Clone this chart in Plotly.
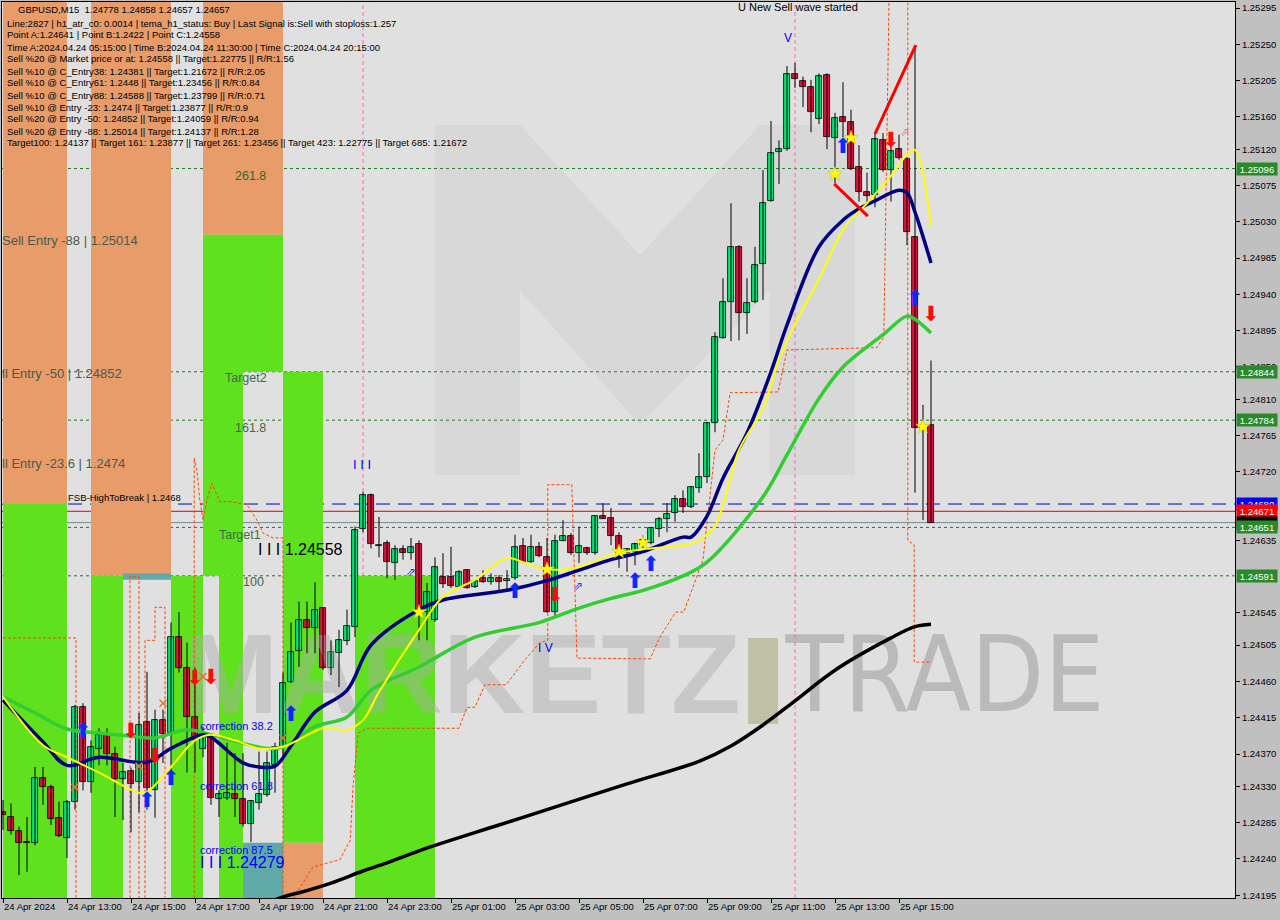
import plotly.graph_objects as go

# ---------------- DATA ----------------
x_labels = ["24 Apr 2024", "24 Apr 13:00", "24 Apr 15:00", "24 Apr 17:00", "24 Apr 19:00",
            "24 Apr 21:00", "24 Apr 23:00", "25 Apr 01:00", "25 Apr 03:00", "25 Apr 05:00",
            "25 Apr 07:00", "25 Apr 09:00", "25 Apr 11:00", "25 Apr 13:00", "25 Apr 15:00"]
x_label_bars = [0, 8, 16, 24, 32, 40, 48, 56, 64, 72, 80, 88, 96, 104, 112]

y_tick_values = [1.25295, 1.25250, 1.25205, 1.25160, 1.25120, 1.25075, 1.25030, 1.24985,
                 1.24940, 1.24895, 1.24850, 1.24810, 1.24765, 1.24720, 1.24635, 1.24545,
                 1.24505, 1.24460, 1.24415, 1.24370, 1.24330, 1.24285, 1.24240, 1.24195]

opens = [1.24298, 1.24292, 1.24275, 1.24261, 1.24260, 1.24340, 1.24329, 1.24291, 1.24266, 1.24311,
         1.24428, 1.24335, 1.24376, 1.24394, 1.24370, 1.24339, 1.24349, 1.24335, 1.24410, 1.24325,
         1.24412, 1.24396, 1.24515, 1.24477, 1.24416, 1.24376, 1.24391, 1.24314, 1.24316, 1.24320,
         1.24314, 1.24283, 1.24309, 1.24319, 1.24356, 1.24379, 1.24459, 1.24498, 1.24536, 1.24526,
         1.24551, 1.24477, 1.24495, 1.24510, 1.24528, 1.24649, 1.24691, 1.24628, 1.24632, 1.24607,
         1.24624, 1.24619, 1.24630, 1.24546, 1.24536, 1.24590, 1.24590, 1.24577, 1.24598, 1.24577,
         1.24588, 1.24583, 1.24588, 1.24585, 1.24588, 1.24628, 1.24608, 1.24627, 1.24614, 1.24546,
         1.24634, 1.24640, 1.24619, 1.24625, 1.24619, 1.24665, 1.24663, 1.24640, 1.24619, 1.24621,
         1.24629, 1.24632, 1.24649, 1.24661, 1.24669, 1.24686, 1.24676, 1.24700, 1.24714, 1.24781,
         1.24886, 1.24931, 1.24999, 1.24917, 1.24931, 1.24978, 1.25056, 1.25117, 1.25120, 1.25213,
         1.25205, 1.25197, 1.25157, 1.25212, 1.25134, 1.25160, 1.25154, 1.25098, 1.25067, 1.25063,
         1.25131, 1.25094, 1.25120, 1.25108, 1.25011, 1.24774, 1.24778]
highs = [1.24313, 1.24309, 1.24280, 1.24292, 1.24354, 1.24354, 1.24332, 1.24311, 1.24313, 1.24431,
         1.24433, 1.24387, 1.24402, 1.24402, 1.24379, 1.24359, 1.24353, 1.24421, 1.24472, 1.24425,
         1.24425, 1.24533, 1.24546, 1.24508, 1.24477, 1.24404, 1.24396, 1.24325, 1.24384, 1.24371,
         1.24371, 1.24313, 1.24373, 1.24373, 1.24384, 1.24471, 1.24533, 1.24559, 1.24559, 1.24583,
         1.24552, 1.24511, 1.24524, 1.24549, 1.24652, 1.24695, 1.24693, 1.24664, 1.24635, 1.24629,
         1.24629, 1.24638, 1.24635, 1.24582, 1.24614, 1.24619, 1.24627, 1.24598, 1.24599, 1.24586,
         1.24598, 1.24594, 1.24592, 1.24598, 1.24642, 1.24638, 1.24642, 1.24633, 1.24638, 1.24642,
         1.24660, 1.24644, 1.24652, 1.24627, 1.24666, 1.24681, 1.24675, 1.24645, 1.24625, 1.24632,
         1.24641, 1.24650, 1.24664, 1.24681, 1.24691, 1.24697, 1.24702, 1.24743, 1.24782, 1.24893,
         1.24960, 1.25053, 1.25001, 1.24960, 1.24999, 1.25094, 1.25155, 1.25131, 1.25223, 1.25227,
         1.25210, 1.25206, 1.25214, 1.25214, 1.25165, 1.25203, 1.25169, 1.25125, 1.25091, 1.25140,
         1.25140, 1.25128, 1.25138, 1.25110, 1.25249, 1.24803, 1.24858]
lows = [1.24276, 1.24270, 1.24220, 1.24224, 1.24257, 1.24307, 1.24282, 1.24267, 1.24241, 1.24301,
        1.24325, 1.24322, 1.24356, 1.24356, 1.24292, 1.24288, 1.24273, 1.24298, 1.24301, 1.24291,
        1.24359, 1.24347, 1.24471, 1.24347, 1.24347, 1.24366, 1.24307, 1.24292, 1.24313, 1.24292,
        1.24280, 1.24261, 1.24301, 1.24317, 1.24322, 1.24366, 1.24458, 1.24478, 1.24495, 1.24495,
        1.24474, 1.24468, 1.24453, 1.24505, 1.24515, 1.24645, 1.24625, 1.24614, 1.24588, 1.24586,
        1.24611, 1.24611, 1.24511, 1.24511, 1.24534, 1.24576, 1.24576, 1.24576, 1.24575, 1.24576,
        1.24582, 1.24580, 1.24573, 1.24573, 1.24586, 1.24607, 1.24607, 1.24614, 1.24545, 1.24539,
        1.24634, 1.24617, 1.24607, 1.24617, 1.24617, 1.24662, 1.24629, 1.24601, 1.24596, 1.24604,
        1.24625, 1.24630, 1.24639, 1.24645, 1.24658, 1.24669, 1.24675, 1.24694, 1.24706, 1.24769,
        1.24885, 1.24882, 1.24883, 1.24891, 1.24929, 1.24933, 1.25055, 1.25077, 1.25118, 1.25196,
        1.25172, 1.25141, 1.25151, 1.25120, 1.25078, 1.25135, 1.25094, 1.25055, 1.25053, 1.25048,
        1.25092, 1.25055, 1.25107, 1.25001, 1.24694, 1.24660, 1.24657]
closes = [1.24294, 1.24275, 1.24260, 1.24260, 1.24340, 1.24329, 1.24289, 1.24268, 1.24311, 1.24428,
          1.24335, 1.24379, 1.24394, 1.24370, 1.24339, 1.24348, 1.24333, 1.24406, 1.24328, 1.24412,
          1.24395, 1.24515, 1.24477, 1.24416, 1.24387, 1.24391, 1.24316, 1.24320, 1.24322, 1.24314,
          1.24283, 1.24312, 1.24320, 1.24359, 1.24379, 1.24458, 1.24497, 1.24536, 1.24526, 1.24549,
          1.24477, 1.24497, 1.24511, 1.24529, 1.24648, 1.24691, 1.24630, 1.24629, 1.24608, 1.24624,
          1.24619, 1.24627, 1.24549, 1.24571, 1.24602, 1.24581, 1.24578, 1.24596, 1.24576, 1.24585,
          1.24583, 1.24588, 1.24583, 1.24587, 1.24627, 1.24608, 1.24627, 1.24616, 1.24546, 1.24634,
          1.24640, 1.24619, 1.24628, 1.24619, 1.24665, 1.24662, 1.24640, 1.24617, 1.24624, 1.24630,
          1.24635, 1.24650, 1.24661, 1.24668, 1.24686, 1.24676, 1.24701, 1.24714, 1.24781, 1.24887,
          1.24931, 1.24999, 1.24917, 1.24929, 1.24976, 1.25053, 1.25115, 1.25120, 1.25213, 1.25207,
          1.25197, 1.25166, 1.25211, 1.25135, 1.25159, 1.25154, 1.25095, 1.25067, 1.25062, 1.25133,
          1.25094, 1.25118, 1.25109, 1.25017, 1.24774, 1.24778, 1.24657]

navy_bars = [0, 5, 8, 12, 18, 21, 25, 26, 30, 32, 34, 36, 39, 43, 46, 52, 55, 63, 68, 72, 76, 80,
             85, 86, 88, 90, 93, 96, 98, 102, 105, 107, 109, 112, 113, 114, 116]
navy_vals = [1.24437, 1.24385, 1.24356, 1.24366, 1.24360, 1.24377, 1.24394, 1.24391, 1.24359, 1.24354,
             1.24355, 1.24380, 1.24422, 1.24449, 1.24505, 1.24549, 1.24561, 1.24573, 1.24585, 1.24598,
             1.24611, 1.24621, 1.24639, 1.24639, 1.24665, 1.24712, 1.24768, 1.24844, 1.24902, 1.24999,
             1.25032, 1.25046, 1.25056, 1.25069, 1.25066, 1.25042, 1.24979]

yellow_bars = [0, 5, 8, 12, 17, 18, 21, 24, 26, 29, 32, 35, 40, 43, 45, 47, 52, 55, 59, 63, 65, 68,
               72, 76, 80, 85, 87, 89, 92, 95, 97, 99, 102, 105, 108, 111, 113, 114, 116]
yellow_vals = [1.24441, 1.24381, 1.24366, 1.24347, 1.24322, 1.24323, 1.24354, 1.24387, 1.24394, 1.24387,
               1.24377, 1.24379, 1.24402, 1.24400, 1.24412, 1.24447, 1.24524, 1.24565, 1.24586, 1.24613,
               1.24608, 1.24599, 1.24602, 1.24617, 1.24624, 1.24629, 1.24635, 1.24653, 1.24747, 1.24799,
               1.24859, 1.24903, 1.24959, 1.25020, 1.25053, 1.25087, 1.25113, 1.25119, 1.25024]

green_bars = [0, 4, 8, 12, 16, 19, 23, 26, 29, 33, 35, 39, 43, 46, 52, 59, 67, 72, 76, 80, 85, 88,
              95, 98, 102, 105, 110, 113, 114, 116]
green_vals = [1.24441, 1.24421, 1.24401, 1.24396, 1.24392, 1.24390, 1.24400, 1.24394, 1.24386, 1.24377,
              1.24379, 1.24404, 1.24416, 1.24449, 1.24478, 1.24515, 1.24533, 1.24551, 1.24563, 1.24573,
              1.24591, 1.24608, 1.24689, 1.24741, 1.24811, 1.24850, 1.24890, 1.24913, 1.24909, 1.24892]

black_bars = [33, 35, 37, 41, 45, 48, 52, 62, 68, 78, 87, 91, 95, 99, 104, 111, 114, 116]
black_vals = [1.24185, 1.24193, 1.24198, 1.24210, 1.24225, 1.24235, 1.24250, 1.24282, 1.24301, 1.24333,
              1.24361, 1.24380, 1.24406, 1.24436, 1.24474, 1.24514, 1.24528, 1.24531]

env_bars = [0, 9.125, 9.125, None,
            15.875, 15.875, 17, 17, None,
            17.75, 17.75, 19, 19, 20.25, 20.25, None,
            23.9, 23.9, 24.25, 24.6, 25, 25.5, 26.1, 27.1, 28.4, 30.5, 31.75, 32.5, 33.75, 35, 35, None,
            35.9, 38.75, 42.1, 43.4, 43.75, 44.4, 45.5, 57, 58, 59, 60.25, 62.9, 65.25, 67.1, 68.1,
            68.1, 71.1, 71.75, 80.9, 82.1, 84.1, 85.1, 87.5, 88.4, 89, 90, 90.9, 96.9, 98, 109.25,
            110.1, 110.75, None,
            113.1, 113.1, 113.9, 113.9, 115.9]
env_vals = [1.24514, 1.24514, 1.24185, None,
            1.24185, 1.24590, 1.24590, 1.24185, None,
            1.24185, 1.24511, 1.24511, 1.24552, 1.24552, 1.24185, None,
            1.24185, 1.24737, 1.24722, 1.24685, 1.24660, 1.24685, 1.24706, 1.24683, 1.24683, 1.24679,
            1.24660, 1.24644, 1.24638, 1.24638, 1.24185, None,
            1.24185, 1.24230, 1.24239, 1.24263, 1.24329, 1.24396, 1.24402, 1.24402, 1.24428, 1.24428,
            1.24456, 1.24456, 1.24487, 1.24508, 1.24511, 1.24704, 1.24704, 1.24489, 1.24488, 1.24515,
            1.24546, 1.24546, 1.24611, 1.24694, 1.24747, 1.24759, 1.24818, 1.24819, 1.24871, 1.24874,
            1.24887, 1.25302, None,
            1.25302, 1.24635, 1.24629, 1.24484, 1.24484]

zigzag_bars = [103.9, 108.1, None, 109, 114.1]
zigzag_vals = [1.25077, 1.25037, None, 1.25139, 1.25249]

buy_arrow_bars = [10, 18, 21, 36, 64, 79, 81, 105, 114]
buy_arrow_vals = [1.24396, 1.24311, 1.24338, 1.24418, 1.24570, 1.24582, 1.24604, 1.25122, 1.24933]
sell_arrow_bars = [16, 19, 24, 26, 69, 111, 116]
sell_arrow_vals = [1.24396, 1.24366, 1.24462, 1.24463, 1.24565, 1.25129, 1.24914]
star_bars = [52, 68, 77, 80, 104, 106, 115]
star_vals = [1.24546, 1.24599, 1.24621, 1.24632, 1.25089, 1.25134, 1.24776]
cross_bars = [9, 17, 20, 25, 35]
cross_vals = [1.24329, 1.24355, 1.24433, 1.24466, 1.24390]
hollow_bars = [51, 71.9, 112.75]
hollow_vals = [1.24594, 1.24577, 1.25140]

# background zones: start bar, end bar, low price, high price, kind
Y_LO, Y_HI = 1.241915, 1.253025
zone_start = [0, 11, 25, 0, 11, 21, 25, 27, 30, 35, 44, 30, 35, 15]
zone_end = [8, 21, 35, 8, 15, 25, 30, 30, 35, 40, 54, 35, 40, 21]
zone_low = [1.24680, 1.24591, 1.25014, Y_LO, Y_LO, Y_LO, 1.24591, Y_LO, 1.24844, 1.24260, Y_LO, Y_LO, Y_LO, 1.24586]
zone_high = [Y_HI, Y_HI, Y_HI, 1.24680, 1.24591, 1.24591, 1.25014, 1.24591, 1.25014, 1.24844, 1.24591, 1.24260, 1.24260, 1.24594]
zone_kind = ["sell", "sell", "sell", "buy", "buy", "buy", "buy", "buy", "buy", "buy", "buy", "mid", "sell", "mid"]

dotted_levels = [1.25096, 1.24844, 1.24784, 1.24651, 1.24591]
fsb_level = 1.24680
red_level = 1.24671
bid_level = 1.24657

vlines_bars = [2, 45, 99]

# ---------------- helpers for layout positions ----------------
def xp(px):
    return (px - 2) / 1233.0

def yp(pix):
    return (898 - pix) / 896.0

def bx(px):
    return (px - 3) / 8.0

def pv(pix):
    return 1.25305 - 0.0000124 * pix

FONT = "Liberation Sans, Arial, sans-serif"
zone_colors = {"sell": "#E79C69", "buy": "#60E11E", "mid": "#5FA9A9"}

fig = go.Figure()

# watermark
fig.add_trace(go.Scatter(x=[bx(462)], y=[pv(684)], mode="text", text=["MARKETZ"],
                         textfont=dict(family=FONT, size=114, color="rgba(170,170,170,0.45)", weight="bold"),
                         hoverinfo="skip"))
fig.add_trace(go.Scatter(x=[bx(945)], y=[pv(684)], mode="text", text=["TRADE"],
                         textfont=dict(family="DejaVu Sans Condensed, Liberation Sans Narrow, Liberation Sans", size=106,
                                       color="rgba(160,160,160,0.6)"),
                         hoverinfo="skip"))

# envelope (orange dashed)
fig.add_trace(go.Scatter(x=env_bars, y=env_vals, mode="lines", connectgaps=False,
                         line=dict(color="#FF4500", width=1, dash="3px,2px"), hoverinfo="skip"))

# black long MA
fig.add_trace(go.Scatter(x=black_bars, y=black_vals, mode="lines", line=dict(color="black", width=3.5, shape="spline"),
                         hoverinfo="skip"))

# candles
bars = list(range(len(opens)))
wx, wy = [], []
for i in bars:
    wx += [i, i, None]
    wy += [highs[i], lows[i], None]
fig.add_trace(go.Scatter(x=wx, y=wy, mode="lines", line=dict(color="black", width=1), hoverinfo="skip"))
bull = [i for i in bars if closes[i] >= opens[i]]
bear = [i for i in bars if closes[i] < opens[i]]
fig.add_trace(go.Bar(x=bull, base=[opens[i] for i in bull],
                     y=[max(closes[i] - opens[i], 0.000015) for i in bull], width=0.74,
                     marker=dict(color="#00E676", line=dict(color="black", width=0.8)), hoverinfo="skip"))
fig.add_trace(go.Bar(x=bear, base=[closes[i] for i in bear],
                     y=[max(opens[i] - closes[i], 0.000015) for i in bear], width=0.74,
                     marker=dict(color="#DC143C", line=dict(color="black", width=0.8)), hoverinfo="skip"))

# moving averages
fig.add_trace(go.Scatter(x=green_bars, y=green_vals, mode="lines", line=dict(color="#32CD32", width=3.5, shape="spline"),
                         hoverinfo="skip"))
fig.add_trace(go.Scatter(x=navy_bars, y=navy_vals, mode="lines", line=dict(color="#000080", width=3.5, shape="spline"),
                         hoverinfo="skip"))
fig.add_trace(go.Scatter(x=yellow_bars, y=yellow_vals, mode="lines", line=dict(color="#FFFF00", width=2, shape="spline"),
                         hoverinfo="skip"))
fig.add_trace(go.Scatter(x=zigzag_bars, y=zigzag_vals, mode="lines", line=dict(color="#FF0000", width=3),
                         hoverinfo="skip"))

# signals
fig.add_trace(go.Scatter(x=cross_bars, y=cross_vals, mode="markers",
                         marker=dict(symbol="x-thin", size=7, line=dict(color="#E8742A", width=1.5)), hoverinfo="skip"))
fig.add_trace(go.Scatter(x=star_bars, y=star_vals, mode="markers",
                         marker=dict(symbol="star", size=11, color="#FFFF00", line=dict(color="#E0C000", width=0.5)),
                         hoverinfo="skip"))
fig.add_trace(go.Scatter(x=buy_arrow_bars, y=buy_arrow_vals, mode="text", text=["⬆"] * len(buy_arrow_bars),
                         textfont=dict(family="DejaVu Sans", size=21, color="#0A2BFF"), hoverinfo="skip"))
fig.add_trace(go.Scatter(x=sell_arrow_bars, y=sell_arrow_vals, mode="text", text=["⬇"] * len(sell_arrow_bars),
                         textfont=dict(family="DejaVu Sans", size=21, color="#FF0A0A"), hoverinfo="skip"))
fig.add_trace(go.Scatter(x=hollow_bars, y=hollow_vals, mode="text", text=["⇗"] * len(hollow_bars),
                         textfont=dict(family="DejaVu Sans", size=12, color=["#2040FF", "#2040FF", "#FF7090"]),
                         hoverinfo="skip"))

# ---------------- shapes ----------------
shapes = []
for s, e, lo, hi, k in zip(zone_start, zone_end, zone_low, zone_high, zone_kind):
    shapes.append(dict(type="rect", xref="x", yref="y", x0=s, x1=e, y0=lo, y1=hi,
                       fillcolor=zone_colors[k], line=dict(width=0), layer="below"))

# faint "M" logo
mpts = [(435, 475), (435, 125), (520, 125), (640, 255), (760, 125), (855, 125), (855, 475),
        (770, 475), (770, 290), (640, 425), (520, 290), (520, 475)]
path = "M " + " L ".join(f"{bx(a)},{pv(b)}" for a, b in mpts) + " Z"
shapes.append(dict(type="path", xref="x", yref="y", path=path, fillcolor="rgba(170,170,170,0.14)",
                   line=dict(width=0), layer="below"))
# tan bar of watermark
shapes.append(dict(type="rect", xref="x", yref="y", x0=bx(748), x1=bx(778), y0=pv(724), y1=pv(638),
                   fillcolor="rgba(185,185,150,0.8)", line=dict(width=0), layer="below"))

for lv in dotted_levels:
    shapes.append(dict(type="line", xref="paper", yref="y", x0=0, x1=1, y0=lv, y1=lv,
                       line=dict(color="#1E7A1E", width=1, dash="3px,3px"), layer="below"))
shapes.append(dict(type="line", xref="paper", yref="y", x0=0, x1=1, y0=fsb_level, y1=fsb_level,
                   line=dict(color="#0000CC", width=1, dash="14px,8px"), layer="below"))
shapes.append(dict(type="line", xref="paper", yref="y", x0=0, x1=1, y0=red_level, y1=red_level,
                   line=dict(color="#E00000", width=1), layer="below"))
shapes.append(dict(type="line", xref="paper", yref="y", x0=0, x1=1, y0=bid_level, y1=bid_level,
                   line=dict(color="#778899", width=1), layer="below"))
vcols = ["#00CCCC", "#FF69B4", "#FF69B4"]
for b, c in zip(vlines_bars, vcols):
    shapes.append(dict(type="line", xref="x", yref="paper", x0=b, x1=b, y0=0, y1=1,
                       line=dict(color=c, width=1, dash="4px,3px"), layer="below"))

# ---------------- annotations ----------------
ann = []
def txt(x, y, t, size=9.5, color="black"):
    ann.append(dict(xref="paper", yref="paper", x=xp(x), y=yp(y), xanchor="left", yanchor="middle",
                    text=t, showarrow=False, font=dict(family=FONT, size=size, color=color)))

header = ["Line:2827 | h1_atr_c0: 0.0014 | tema_h1_status: Buy | Last Signal is:Sell with stoploss:1.257",
          "Point A:1.24641 | Point B:1.2422 | Point C:1.24558",
          "Time A:2024.04.24 05:15:00 | Time B:2024.04.24 11:30:00 | Time C:2024.04.24 20:15:00",
          "Sell %20 @ Market price or at: 1.24558 || Target:1.22775 || R/R:1.56",
          "Sell %10 @ C_Entry38: 1.24381 || Target:1.21672 || R/R:2.05",
          "Sell %10 @ C_Entry61: 1.2448 || Target:1.23456 || R/R:0.84",
          "Sell %10 @ C_Entry88: 1.24588 || Target:1.23799 || R/R:0.71",
          "Sell %10 @ Entry -23: 1.2474 || Target:1.23877 || R/R:0.9",
          "Sell %20 @ Entry -50: 1.24852 || Target:1.24059 || R/R:0.94",
          "Sell %20 @ Entry -88: 1.25014 || Target:1.24137 || R/R:1.28",
          "Target100: 1.24137 || Target 161: 1.23877 || Target 261: 1.23456 || Target 423: 1.22775 || Target 685: 1.21672"]
txt(16, 10, "GBPUSD,M15  1.24778 1.24858 1.24657 1.24657")
for k, line in enumerate(header):
    txt(5, 23 + 12 * k, line)

lvl_col = "#3F6A4A"
txt(233, 176, "261.8", 12.5, "#2E6A2E")
txt(0, 241, "Sell Entry -88 | 1.25014", 13, "#4C5A4C")
txt(0, 373, "ll Entry -50 | 1.24852", 13, "#4C5A4C")
txt(223, 378, "Target2", 12.5, lvl_col)
txt(233, 428, "161.8", 12.5, lvl_col)
txt(0, 463, "ll Entry -23.6 | 1.2474", 13, "#4C5A4C")
txt(66, 497, "FSB-HighToBreak | 1.2468", 9.5, "black")
txt(217, 535, "Target1", 12.5, lvl_col)
txt(256, 549, "I I I 1.24558", 16, "black")
txt(241, 582, "100", 12.5, lvl_col)
txt(198, 726, "correction 38.2", 11, "#0000FF")
txt(198, 786, "correction 61.8", 11, "#0000FF")
txt(198, 850, "correction 87.5", 11, "#0000FF")
txt(198, 862, "I I I 1.24279", 16, "#0000FF")
txt(351, 464, "I I I", 13, "#0000FF")
txt(736, 7, "U New Sell wave started", 11, "black")
txt(782, 38, "V", 12, "#0000FF")
txt(536, 648, "I V", 12, "#0000FF")

# right-side price boxes
boxes = [(1.25096, "#2A8A2A", "white"), (1.24844, "#2A8A2A", "white"), (1.24784, "#2A8A2A", "white"),
         (1.24680, "#0000FF", "white"), (1.24671, "#FF0000", "white"), (1.24657, "#000000", "white"),
         (1.24651, "#2A8A2A", "white"), (1.24591, "#2A8A2A", "white")]
for v, bg, fc in boxes:
    ann.append(dict(xref="paper", yref="y", x=xp(1236), y=v, xanchor="left", yanchor="middle",
                    text=f"{v:.5f}", showarrow=False, bgcolor=bg, width=40, height=12, borderpad=0,
                    font=dict(family=FONT, size=9.5, color=fc)))

fig.update_layout(
    width=1280, height=920,
    margin=dict(l=2, r=45, t=2, b=22),
    paper_bgcolor="#C0C0C0", plot_bgcolor="#E0E0E0",
    showlegend=False, barmode="overlay", bargap=0,
    font=dict(family=FONT, size=9.5, color="black"),
    shapes=shapes, annotations=ann,
    xaxis=dict(range=[-0.125, 154], tickvals=x_label_bars, ticktext=x_labels, ticks="outside", ticklen=4,
               tickcolor="black", showgrid=False, zeroline=False, showline=True, linecolor="black",
               mirror=True, ticklabelposition="outside right", tickfont=dict(size=9.5, color="black")),
    yaxis=dict(range=[Y_LO, Y_HI], side="right", tickvals=y_tick_values, tickformat=".5f",
               ticks="outside", ticklen=4, tickcolor="black", showgrid=False, zeroline=False,
               showline=True, linecolor="black", mirror=True, tickfont=dict(size=9.5, color="black")),
)

fig.write_html("out.html", config={"displayModeBar": False},
               post_script="document.body.style.margin='0px';document.body.style.overflow='hidden';")
